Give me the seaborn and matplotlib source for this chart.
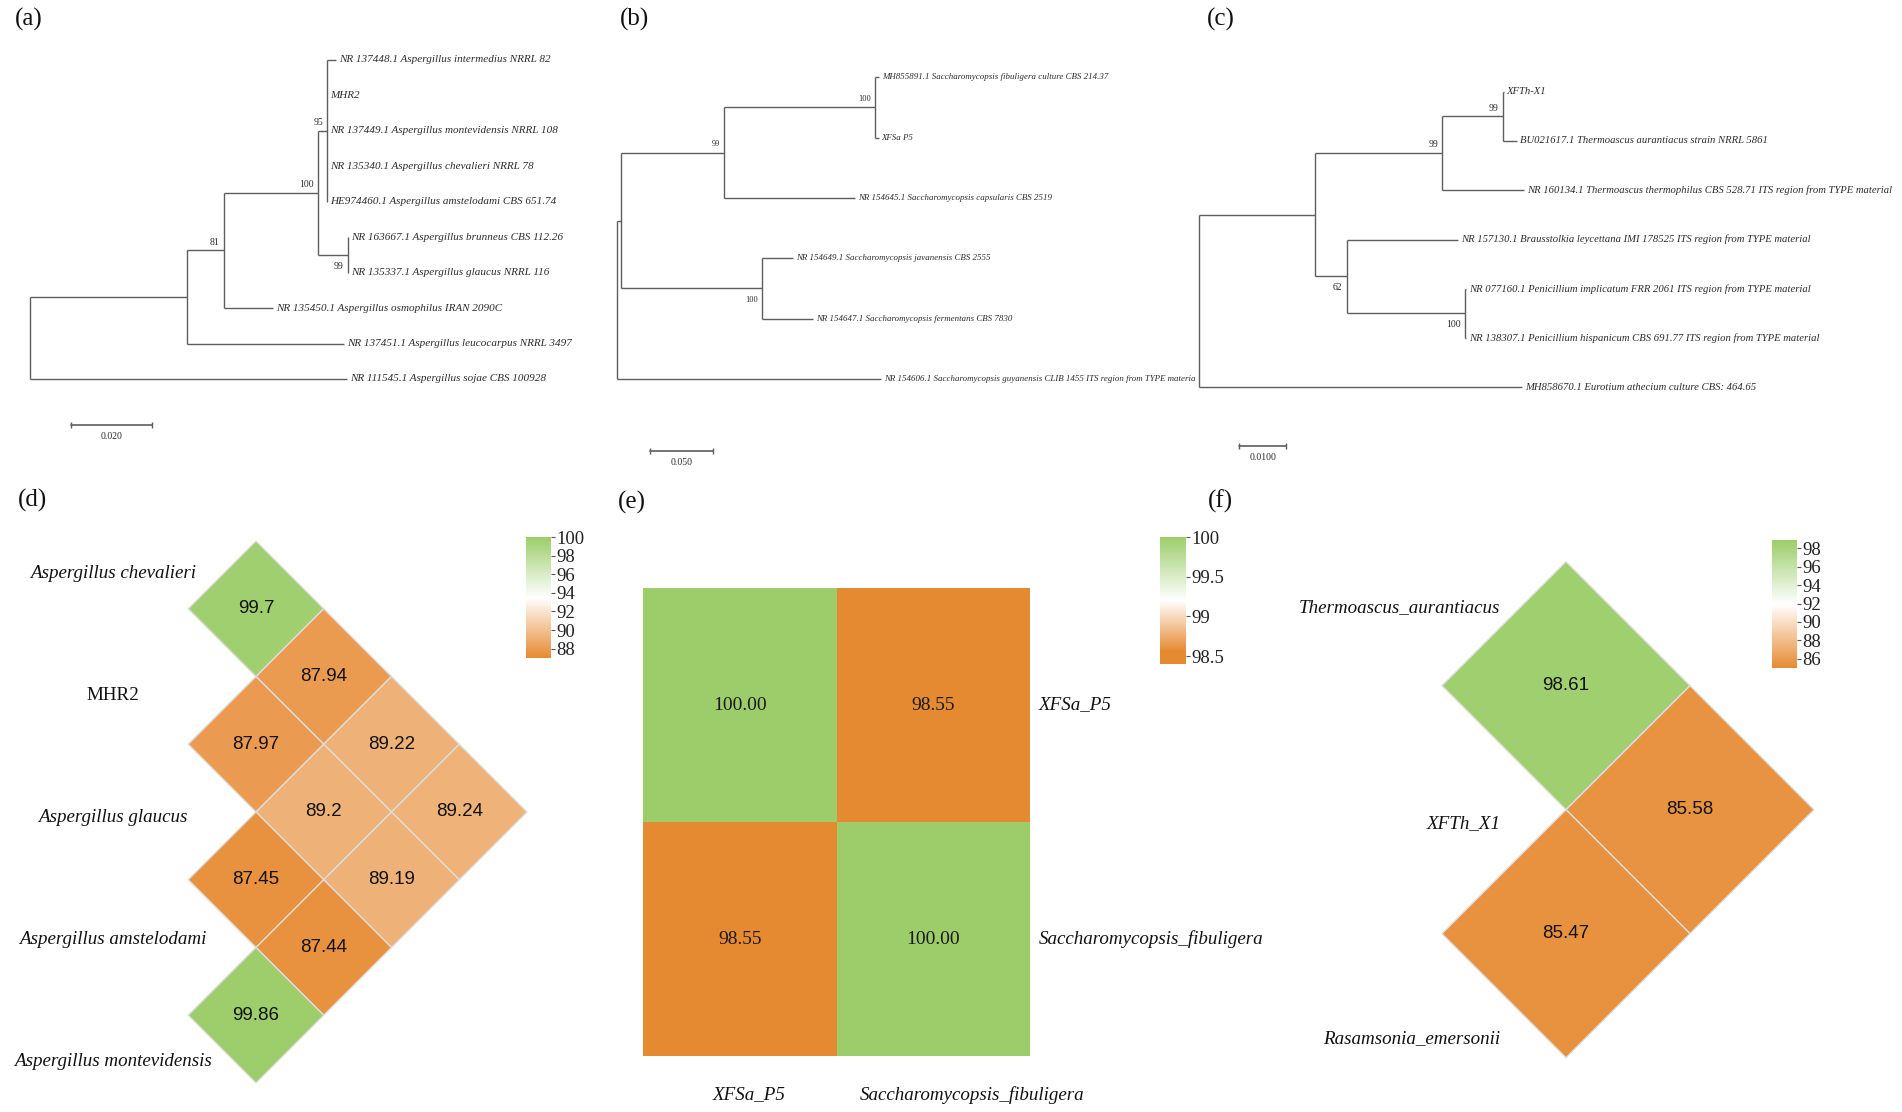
import numpy as np
import pandas as pd
import matplotlib
matplotlib.use("Agg")
import matplotlib.pyplot as plt
import seaborn as sns
from matplotlib.colors import LinearSegmentedColormap, Normalize
from matplotlib.collections import PolyCollection
from matplotlib.cm import ScalarMappable
from matplotlib.ticker import FuncFormatter

W, H, DPI = 1902, 1112, 100

# ---------------- data ----------------
# trees: (node, parent, branch length, bootstrap, tip label) in preorder, tips listed top -> bottom
TREE_A = [
    ("r", None, 0.0, None, None),
    ("n1", "r", 0.0387, None, None),
    ("n81", "n1", 0.0091, 81, None),
    ("n100", "n81", 0.0234, 100, None),
    ("n95", "n100", 0.0022, 95, None),
    ("t1", "n95", 0.0022, None, "NR 137448.1 Aspergillus intermedius NRRL 82"),
    ("t2", "n95", 0.0, None, "MHR2"),
    ("t3", "n95", 0.0, None, "NR 137449.1 Aspergillus montevidensis NRRL 108"),
    ("t4", "n95", 0.0, None, "NR 135340.1 Aspergillus chevalieri NRRL 78"),
    ("t5", "n95", 0.0, None, "HE974460.1 Aspergillus amstelodami CBS 651.74"),
    ("n99", "n100", 0.0073, 99, None),
    ("t6", "n99", 0.0, None, "NR 163667.1 Aspergillus brunneus CBS 112.26"),
    ("t7", "n99", 0.0, None, "NR 135337.1 Aspergillus glaucus NRRL 116"),
    ("t8", "n81", 0.0122, None, "NR 135450.1 Aspergillus osmophilus IRAN 2090C"),
    ("t9", "n1", 0.0388, None, "NR 137451.1 Aspergillus leucocarpus NRRL 3497"),
    ("t10", "r", 0.0782, None, "NR 111545.1 Aspergillus sojae CBS 100928"),
]
TREE_B = [
    ("r", None, 0.0, None, None),
    ("n0", "r", 0.0026, None, None),
    ("n99", "n0", 0.0825, 99, None),
    ("n100a", "n99", 0.1215, 100, None),
    ("t1", "n100a", 0.0026, None, "MH855891.1 Saccharomycopsis fibuligera culture CBS 214.37"),
    ("t2", "n100a", 0.0026, None, "XFSa P5"),
    ("t3", "n99", 0.1051, None, "NR 154645.1 Saccharomycopsis capsularis CBS 2519"),
    ("n100b", "n0", 0.1132, 100, None),
    ("t4", "n100b", 0.0247, None, "NR 154649.1 Saccharomycopsis javanensis CBS 2555"),
    ("t5", "n100b", 0.0412, None, "NR 154647.1 Saccharomycopsis fermentans CBS 7830"),
    ("t6", "r", 0.2107, None, "NR 154606.1 Saccharomycopsis guyanensis CLIB 1455 ITS region from TYPE materia"),
]
TREE_C = [
    ("r", None, 0.0, None, None),
    ("n1", "r", 0.0245, None, None),
    ("n99a", "n1", 0.0269, 99, None),
    ("n99b", "n99a", 0.0128, 99, None),
    ("t1", "n99b", 0.0002, None, "XFTh-X1"),
    ("t2", "n99b", 0.0031, None, "BU021617.1 Thermoascus aurantiacus strain NRRL 5861"),
    ("t3", "n99a", 0.0173, None, "NR 160134.1 Thermoascus thermophilus CBS 528.71 ITS region from TYPE material"),
    ("n62", "n1", 0.0067, 62, None),
    ("t4", "n62", 0.0235, None, "NR 157130.1 Brausstolkia leycettana IMI 178525 ITS region from TYPE material"),
    ("n100", "n62", 0.0250, 100, None),
    ("t5", "n100", 0.0003, None, "NR 077160.1 Penicillium implicatum FRR 2061 ITS region from TYPE material"),
    ("t6", "n100", 0.0003, None, "NR 138307.1 Penicillium hispanicum CBS 691.77 ITS region from TYPE material"),
    ("t7", "r", 0.0682, None, "MH858670.1 Eurotium athecium culture CBS: 464.65"),
]
SCALE_LEN = [0.020, 0.050, 0.0100]
SCALE_TXT = ["0.020", "0.050", "0.0100"]

# sequence identity (%) - lower triangles, row j holds pairs (i, j) for i < j
D_NAMES = ["Aspergillus chevalieri", "MHR2", "Aspergillus glaucus",
           "Aspergillus amstelodami", "Aspergillus montevidensis"]
D_ITALIC = [True, False, True, True, True]
D_VALUES = [
    [],
    [99.7],
    [87.94, 87.97],
    [89.22, 89.2, 87.45],
    [89.24, 89.19, 87.44, 99.86],
]
D_TICKS = [88, 90, 92, 94, 96, 98, 100]
D_RANGE = (87.0, 100.0)

E_NAMES = ["XFSa_P5", "Saccharomycopsis_fibuligera"]
E_VALUES = [[100.00, 98.55],
            [98.55, 100.00]]
E_TICKS = [98.5, 99, 99.5, 100]
E_RANGE = (98.4, 100.0)

F_NAMES = ["Thermoascus_aurantiacus", "XFTh_X1", "Rasamsonia_emersonii"]
F_ITALIC = [True, True, True]
F_VALUES = [
    [],
    [98.61],
    [85.58, 85.47],
]
F_TICKS = [86, 88, 90, 92, 94, 96, 98]
F_RANGE = (85.0, 98.9)

ORANGE, GREEN = "#E68A32", "#9CCD6A"
LINE, TXT, EDGE = "#5e5e5e", "#2b2b2b", "#dedede"

sns.set_theme(style="white")
plt.rcParams["font.family"] = ["Liberation Serif", "DejaVu Serif"]

cmap = LinearSegmentedColormap.from_list("og", [ORANGE, "#FFFFFF", GREEN])
# (e): orange held flat through the lowest values, as in the original colour key
cmap_e = LinearSegmentedColormap.from_list(
    "og_e", [(0.0, ORANGE), (0.1, ORANGE), (0.5, "#FFFFFF"), (1.0, GREEN)])
fmt_g = FuncFormatter(lambda v, p: f"{v:g}")


def px_axes(fig, x0, y0, sx, sy, xlim, ylim):
    """Axes whose data origin sits at pixel (x0, y0); sx, sy pixels per unit, y runs downward."""
    left, right = x0 + xlim[0] * sx, x0 + xlim[1] * sx
    top, bottom = y0 + ylim[0] * sy, y0 + ylim[1] * sy
    ax = fig.add_axes([left / W, 1 - bottom / H, (right - left) / W, (bottom - top) / H])
    ax.set_xlim(*xlim)
    ax.set_ylim(ylim[1], ylim[0])
    ax.axis("off")
    return ax


def box_axes(fig, x0, y0, x1, y1):
    return fig.add_axes([x0 / W, 1 - y1 / H, (x1 - x0) / W, (y1 - y0) / H])


def layout_tree(nodes):
    idx = {n[0]: k for k, n in enumerate(nodes)}
    children = {n[0]: [] for n in nodes}
    xs = np.zeros(len(nodes))
    ys = np.zeros(len(nodes))
    for k, (name, parent, length, _, _) in enumerate(nodes):
        if parent is not None:
            xs[k] = xs[idx[parent]] + length
            children[parent].append(name)
    leaf = 0
    for k, n in enumerate(nodes):
        if not children[n[0]]:
            ys[k] = leaf
            leaf += 1
    for k in range(len(nodes) - 1, -1, -1):
        kids = children[nodes[k][0]]
        if kids:
            ys[k] = (ys[idx[kids[0]]] + ys[idx[kids[-1]]]) / 2
    return xs, ys, children, idx


def draw_tree(ax, nodes, fs_tip, fs_boot):
    xs, ys, children, idx = layout_tree(nodes)
    for k, (name, parent, length, boot, label) in enumerate(nodes):
        if parent is not None and length > 0:
            ax.plot([xs[idx[parent]], xs[k]], [ys[k], ys[k]], color=LINE, lw=1.0,
                    solid_capstyle="butt")
        kids = children[name]
        if kids:
            ax.plot([xs[k], xs[k]], [ys[idx[kids[0]]], ys[idx[kids[-1]]]], color=LINE,
                    lw=1.0, solid_capstyle="butt")
        if label:
            ax.annotate(label, (xs[k], ys[k]), xytext=(2.2, 0), textcoords="offset points",
                        ha="left", va="center", fontsize=fs_tip, style="italic", color=TXT)
        if boot is not None:
            first = children[parent][0] == name
            ax.annotate(str(boot), (xs[k], ys[k]), xytext=(-3, 6 if first else -8),
                        textcoords="offset points", ha="right", va="center",
                        fontsize=fs_boot, color=TXT)


def scale_bar(ax, x, y, length, text, fs):
    ax.plot([x, x + length], [y, y], color=LINE, lw=1.2)
    ax.plot([x, x + length], [y, y], ls="none", marker="|", ms=5, mew=1.0, color=LINE)
    ax.annotate(text, (x + length / 2, y), xytext=(0, -8), textcoords="offset points",
                ha="center", va="center", fontsize=fs, color=TXT)


def diamond_heatmap(ax, names, values, italic, norm, label_x, label_ha, squeeze, shift,
                    fs_lab=13.7, fs_num=13.5):
    polys, vals, centers = [], [], []
    for j, row in enumerate(values):
        for i, v in enumerate(row):
            cx, cy = j - i, i + j
            polys.append([(cx - 1, cy), (cx, cy - 1), (cx + 1, cy), (cx, cy + 1)])
            vals.append(v)
            centers.append((cx, cy))
    pc = PolyCollection(polys, cmap=cmap, norm=norm, edgecolor=EDGE, linewidth=1.0)
    pc.set_array(np.array(vals))
    ax.add_collection(pc)
    for (cx, cy), v in zip(centers, vals):
        ax.text(cx, cy, f"{v:g}", ha="center", va="center", fontsize=fs_num,
                family="Liberation Sans", color="#111111")
    mid = len(names) - 1
    for k, name in enumerate(names):
        y = mid + (2 * k - mid) * squeeze + shift
        ax.text(label_x, y, name, ha=label_ha, va="center", fontsize=fs_lab,
                style="italic" if italic[k] else "normal", color="#111111")


def style_cbar(cb, ticks):
    cb.outline.set_visible(False)
    cb.set_ticks(ticks)
    cb.ax.yaxis.set_major_formatter(fmt_g)
    cb.ax.tick_params(length=3, width=0.8, pad=1, labelsize=13.5, color="#555555",
                      labelcolor="#222222")


fig = plt.figure(figsize=(W / DPI, H / DPI), dpi=DPI)

# ---------------- (a)(b)(c) trees ----------------
# root px, first tip px, px per unit, px per tip row, scale bar x px, scale bar y px, font sizes
tree_specs = [
    (TREE_A, 30.0, 60.0, 4050.0, 35.44, 70.7, 425.0, 8.0, 7.0),
    (TREE_B, 617.4, 77.3, 1249.0, 60.34, 650.2, 451.0, 6.4, 6.0),
    (TREE_C, 1199.0, 91.7, 4730.0, 49.27, 1239.0, 446.0, 7.7, 7.0),
]
for (nodes, rx, ty, ppu, dy, sbx, sby, fs_tip, fs_boot), slen, stxt in zip(
        tree_specs, SCALE_LEN, SCALE_TXT):
    n_tips = sum(1 for n in nodes if n[4])
    ax = px_axes(fig, rx, ty, ppu, dy, (-10 / ppu, 560 / ppu), (-1.2, n_tips + 2.5))
    draw_tree(ax, nodes, fs_tip, fs_boot)
    scale_bar(ax, (sbx - rx) / ppu, (sby - ty) / dy, slen, stxt, 7)

# ---------------- (d) rotated identity heatmap ----------------
norm_d = Normalize(*D_RANGE)
ax_d = px_axes(fig, 188.25, 541.0, 67.75, 67.75, (-2.8, 5.3), (-0.5, 8.5))
diamond_heatmap(ax_d, D_NAMES, D_VALUES, D_ITALIC, norm_d, -1.115, "center", 0.9, 0.08)
cb_d = fig.colorbar(ScalarMappable(norm=norm_d, cmap=cmap), cax=box_axes(fig, 526, 537, 551, 658))
style_cbar(cb_d, D_TICKS)

# ---------------- (e) square heatmap ----------------
ax_e = box_axes(fig, 643, 588, 1030, 1056)
cax_e = box_axes(fig, 1160, 537, 1186, 664)
df_e = pd.DataFrame(E_VALUES, index=E_NAMES, columns=E_NAMES)
sns.heatmap(df_e, ax=ax_e, cmap=cmap_e, vmin=E_RANGE[0], vmax=E_RANGE[1], annot=True,
            fmt=".2f", cbar_ax=cax_e, linewidths=0,
            annot_kws={"fontsize": 14, "color": "#1a1a1a", "family": "Liberation Serif"})
ax_e.yaxis.tick_right()
ax_e.set_xticks([0.55, 1.7])
ax_e.set_xticklabels(E_NAMES)
ax_e.tick_params(axis="both", length=0)
ax_e.tick_params(axis="x", pad=22)
ax_e.tick_params(axis="y", pad=6)
ax_e.set_xlabel("")
ax_e.set_ylabel("")
for t in ax_e.get_xticklabels() + ax_e.get_yticklabels():
    t.set_rotation(0)
    t.set_fontstyle("italic")
    t.set_fontsize(13.7)
    t.set_color("#111111")
for t in ax_e.get_yticklabels():
    t.set_ha("left")
    t.set_va("center")
style_cbar(ax_e.collections[0].colorbar, E_TICKS)

# ---------------- (f) rotated identity heatmap ----------------
norm_f = Normalize(*F_RANGE)
ax_f = px_axes(fig, 1442.0, 561.7, 124.0, 124.0, (-1.2, 3.3), (-0.3, 4.3))
diamond_heatmap(ax_f, F_NAMES, F_VALUES, F_ITALIC, norm_f, 0.47, "right", 0.87, 0.11)
cb_f = fig.colorbar(ScalarMappable(norm=norm_f, cmap=cmap), cax=box_axes(fig, 1772, 540, 1797, 668))
style_cbar(cb_f, F_TICKS)

# ---------------- panel letters ----------------
for letter, x, y in [("(a)", 15, 19), ("(b)", 620, 19), ("(c)", 1207, 19),
                     ("(d)", 18, 500), ("(e)", 618, 502), ("(f)", 1208, 501)]:
    fig.text(x / W, 1 - y / H, letter, fontsize=18, ha="left", va="center", color="#111111")

fig.savefig("out.png", dpi=DPI)
